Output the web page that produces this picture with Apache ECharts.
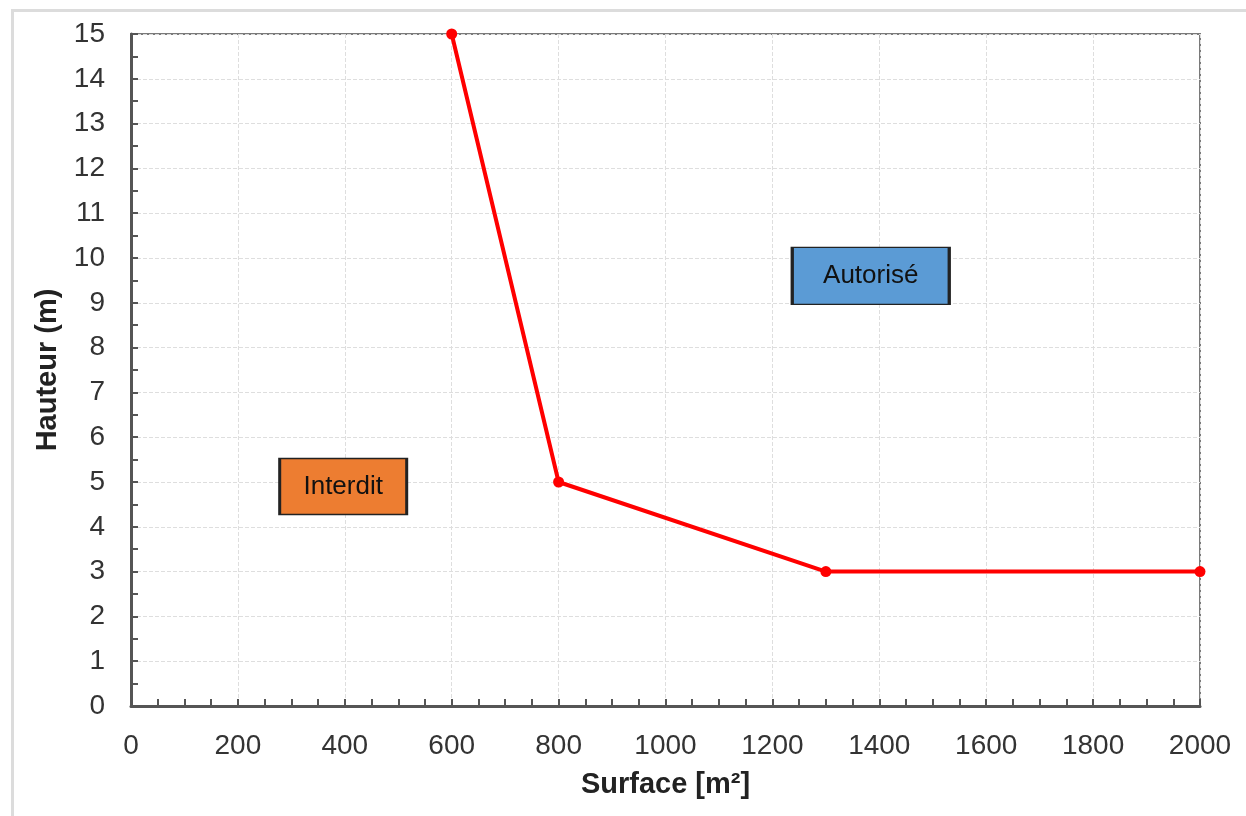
<!DOCTYPE html>
<html>
<head>
<meta charset="utf-8">
<script src="https://cdn.jsdelivr.net/npm/echarts@6/dist/echarts.min.js"></script>
<style>
html,body{margin:0;padding:0;background:#fff;}
#chart{width:1246px;height:816px;}
</style>
</head>
<body>
<div id="chart"></div>
<script>
// Data
const surface = [600, 800, 1300, 2000];
const hauteur = [15, 5, 3, 3];
const zoneLabels = ['Interdit', 'Autorisé'];
const zoneX = [397, 1384];
const zoneY = [4.9, 9.6];
const xTitle = 'Surface [m²]';
const yTitle = 'Hauteur (m)';

const FONT = '"Liberation Sans", Arial, Helvetica, sans-serif';
const zoneColors = ['#ED7D31', '#5B9BD5'];
const zoneSizes = [[127, 56], [157, 57]];

const chart = echarts.init(document.getElementById('chart'), null, {renderer: 'canvas'});

chart.setOption({
  animation: false,
  backgroundColor: '#fff',
  graphic: [{
    type: 'rect',
    left: 10, top: 8,
    shape: {x: 0, y: 0, width: 1400, height: 1000},
    style: {fill: 'none', stroke: '#dcdcdc', lineWidth: 3},
    silent: true, z: -10
  }],
  grid: {
    left: 131, right: 46, top: 34, bottom: 110,
    show: true, borderColor: '#7a7a7a', borderWidth: 2,
    containLabel: false
  },
  xAxis: {
    type: 'value', min: 0, max: 2000, interval: 200,
    name: xTitle, nameLocation: 'middle', nameGap: 64,
    nameTextStyle: {fontFamily: FONT, fontSize: 29, fontWeight: 'bold', color: '#222'},
    axisLine: {show: true, onZero: false, lineStyle: {color: '#555', width: 3}},
    axisTick: {show: true, inside: true, length: 7, lineStyle: {color: '#555', width: 2}},
    minorTick: {show: true, splitNumber: 4, length: 7, lineStyle: {color: '#555', width: 2}},
    axisLabel: {fontFamily: FONT, fontSize: 28, color: '#333', margin: 26, formatter: v => String(v)},
    splitLine: {show: true, lineStyle: {color: '#dedede', type: 'dashed', width: 1}}
  },
  yAxis: {
    type: 'value', min: 0, max: 15, interval: 1,
    name: yTitle, nameLocation: 'middle', nameGap: 62, nameRotate: 90,
    nameTextStyle: {fontFamily: FONT, fontSize: 29, fontWeight: 'bold', color: '#222'},
    axisLine: {show: true, onZero: false, lineStyle: {color: '#555', width: 3}},
    axisTick: {show: true, inside: true, length: 7, lineStyle: {color: '#555', width: 2}},
    minorTick: {show: true, splitNumber: 2, length: 7, lineStyle: {color: '#555', width: 2}},
    axisLabel: {fontFamily: FONT, fontSize: 28, color: '#333', margin: 26, formatter: v => String(v)},
    splitLine: {show: true, lineStyle: {color: '#dedede', type: 'dashed', width: 1}}
  },
  series: [
    {
      type: 'line',
      data: surface.map((x, i) => [x, hauteur[i]]),
      symbol: 'circle', symbolSize: 11,
      lineStyle: {color: '#FF0000', width: 4},
      itemStyle: {color: '#FF0000'},
      clip: false, z: 5
    },
    {
      type: 'scatter',
      symbol: 'rect',
      data: zoneLabels.map((name, i) => ({
        value: [zoneX[i], zoneY[i]],
        name: name,
        symbolSize: zoneSizes[i],
        itemStyle: {color: zoneColors[i], borderColor: '#222', borderWidth: 2, opacity: 1}
      })),
      label: {
        show: true, position: 'inside', formatter: '{b}',
        fontFamily: FONT, fontSize: 26, color: '#111'
      },
      z: 6
    }
  ]
});
</script>
</body>
</html>
